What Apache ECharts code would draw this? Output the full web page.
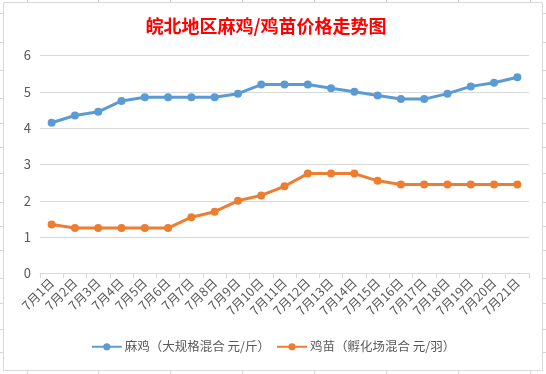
<!DOCTYPE html>
<html><head><meta charset="utf-8">
<script src="https://cdn.jsdelivr.net/npm/echarts@6/dist/echarts.min.js"></script>
<style>html,body{margin:0;padding:0;background:#fff}#c{width:546px;height:374px}</style>
</head><body><div id="c"></div>
<script>
const categories = ['7月1日','7月2日','7月3日','7月4日','7月5日','7月6日','7月7日','7月8日','7月9日','7月10日','7月11日','7月12日','7月13日','7月14日','7月15日','7月16日','7月17日','7月18日','7月19日','7月20日','7月21日'];
const henPrice = [4.15,4.35,4.45,4.75,4.85,4.85,4.85,4.85,4.95,5.2,5.2,5.2,5.1,5.0,4.9,4.8,4.8,4.95,5.15,5.25,5.4];
const chickPrice = [1.35,1.25,1.25,1.25,1.25,1.25,1.55,1.7,2.0,2.15,2.4,2.75,2.75,2.75,2.55,2.45,2.45,2.45,2.45,2.45,2.45];
const seriesNames = ['麻鸡（大规格混合 元/斤）','鸡苗（孵化场混合 元/羽）'];
const yTicks = {min:0, max:6, interval:1};

const FONT = '"Noto Sans CJK SC", sans-serif';
const cellCols = [27,98,170,242,314,386,458,530];
const cellRows = [13,42,70,98,123,147,173,202,226,250,278,303,329,352];
const g = [];
g.push({type:'rect', shape:{x:3.5,y:2.5,width:539,height:368}, style:{fill:'none', stroke:'#d9d9d9', lineWidth:1}, z:-1});
cellCols.forEach(x=>{
  g.push({type:'line', shape:{x1:x+0.5,y1:0,x2:x+0.5,y2:2}, style:{stroke:'#d4d4d4',lineWidth:1}});
  g.push({type:'line', shape:{x1:x+0.5,y1:371,x2:x+0.5,y2:374}, style:{stroke:'#d4d4d4',lineWidth:1}});
});
cellRows.forEach(y=>{
  g.push({type:'line', shape:{x1:0,y1:y+0.5,x2:3,y2:y+0.5}, style:{stroke:'#d4d4d4',lineWidth:1}});
  g.push({type:'line', shape:{x1:543,y1:y+0.5,x2:546,y2:y+0.5}, style:{stroke:'#d4d4d4',lineWidth:1}});
});

const chart = echarts.init(document.getElementById('c'), null, {renderer:'canvas'});
chart.setOption({
  animation:false,
  backgroundColor:'#fff',
  graphic:g,
  title:{text:'皖北地区麻鸡/鸡苗价格走势图', left:261, textAlign:'center', top:12,
    textStyle:{color:'#ff0000', fontSize:18, fontWeight:'bold', fontFamily:FONT}},
  legend:{bottom:16, left:'center', itemWidth:30, itemHeight:9, itemGap:6,
    textStyle:{color:'#595959', fontSize:12.5, fontFamily:FONT, padding:[0,0,0,-2]},
    data:seriesNames},
  grid:{left:40, right:17, top:55.5, bottom:100.5, containLabel:false},
  xAxis:{type:'category', data:categories, boundaryGap:true,
    axisLine:{lineStyle:{color:'#d9d9d9'}},
    axisTick:{show:true, length:5, lineStyle:{color:'#d9d9d9'}},
    axisLabel:{rotate:45, color:'#595959', fontSize:12.5, fontFamily:FONT, margin:7, interval:0}},
  yAxis:{type:'value', min:yTicks.min, max:yTicks.max, interval:yTicks.interval,
    axisLine:{show:false}, axisTick:{show:false},
    axisLabel:{color:'#595959', fontSize:13, fontFamily:FONT, margin:9},
    splitLine:{lineStyle:{color:'#d9d9d9'}}},
  series:[
    {name:seriesNames[0], type:'line', data:henPrice, symbol:'circle', symbolSize:8,
      itemStyle:{color:'#5b9bd5'}, lineStyle:{color:'#5b9bd5', width:3}},
    {name:seriesNames[1], type:'line', data:chickPrice, symbol:'circle', symbolSize:8,
      itemStyle:{color:'#ed7d31'}, lineStyle:{color:'#ed7d31', width:3}}
  ]
});
</script></body></html>
